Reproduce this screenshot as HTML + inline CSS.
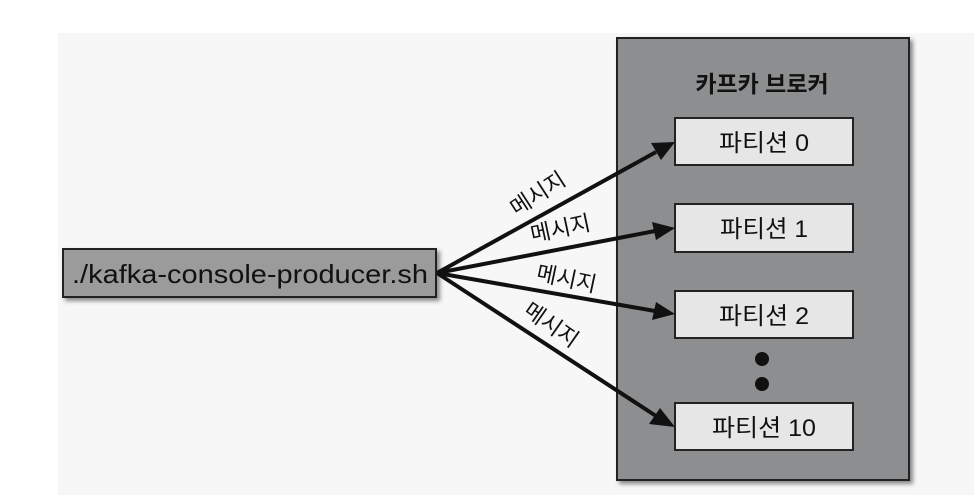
<!DOCTYPE html>
<html><head><meta charset="utf-8"><style>
html,body{margin:0;padding:0;background:#fff;}
svg{display:block;}
text{font-family:"Liberation Sans","Noto Sans CJK KR",sans-serif;fill:#111;}
</style></head><body>
<svg width="974" height="498" viewBox="0 0 974 498" xmlns="http://www.w3.org/2000/svg">
<defs>
<filter id="sh" x="-10%" y="-10%" width="130%" height="130%"><feDropShadow dx="3" dy="3" stdDeviation="2" flood-color="#000" flood-opacity="0.45"/></filter>
</defs>
<rect x="58" y="33" width="916" height="462" fill="#f7f7f7"/>
<rect x="617" y="38" width="292" height="442" fill="#8d8e90" stroke="#222" stroke-width="2" filter="url(#sh)"/>
<text x="762" y="92" font-size="23" font-weight="bold" text-anchor="middle">카프카 브로커</text>
<g font-size="24" text-anchor="middle">
<rect x="675" y="118" width="178" height="47" fill="#e6e6e6" stroke="#222" stroke-width="2"/>
<text x="764" y="151" textLength="90" lengthAdjust="spacingAndGlyphs">파티션 0</text>
<rect x="675" y="204" width="178" height="48" fill="#e6e6e6" stroke="#222" stroke-width="2"/>
<text x="764" y="237" textLength="88" lengthAdjust="spacingAndGlyphs">파티션 1</text>
<rect x="675" y="291" width="178" height="47" fill="#e6e6e6" stroke="#222" stroke-width="2"/>
<text x="764" y="324" textLength="90" lengthAdjust="spacingAndGlyphs">파티션 2</text>
<rect x="675" y="403" width="178" height="47" fill="#e6e6e6" stroke="#222" stroke-width="2"/>
<text x="764" y="436" textLength="104" lengthAdjust="spacingAndGlyphs">파티션 10</text>
</g>
<circle cx="762" cy="359" r="7" fill="#111"/>
<circle cx="762" cy="384" r="7" fill="#111"/>
<rect x="63" y="249" width="373" height="48" fill="#9b9b9b" stroke="#222" stroke-width="2" filter="url(#sh)"/>
<text x="72" y="283" font-size="26" textLength="356" lengthAdjust="spacingAndGlyphs">./kafka-console-producer.sh</text>
<g stroke="#111" stroke-width="4" fill="none">
<line x1="437" y1="273" x2="656" y2="152"/>
<line x1="437" y1="273" x2="655" y2="231"/>
<line x1="437" y1="273" x2="655" y2="311"/>
<line x1="437" y1="273" x2="656" y2="416"/>
</g>
<g fill="#111">
<polygon points="675,142 651,143 661,160"/>
<polygon points="675,228 652,222 656,240"/>
<polygon points="675,314 656,302 652,320"/>
<polygon points="675,427 660,408 649,424"/>
</g>
<g font-size="22" text-anchor="middle">
<text transform="translate(542,200) rotate(-33)">메시지</text>
<text transform="translate(562,236) rotate(-12)">메시지</text>
<text transform="translate(565,286) rotate(12)">메시지</text>
<text transform="translate(547,331) rotate(35)">메시지</text>
</g>
</svg>
</body></html>
